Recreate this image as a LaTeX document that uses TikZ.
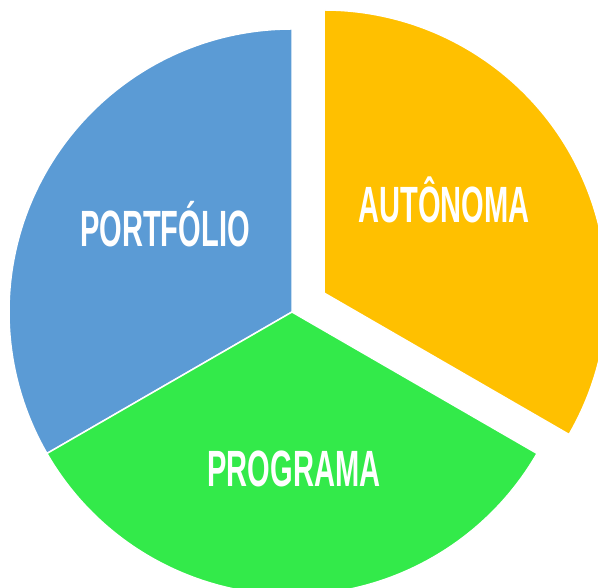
\documentclass[tikz,border=0pt]{standalone}
\usepackage{fontspec}
\newfontfamily\fonterotulo[FakeStretch=0.57]{Liberation Sans}
\usetikzlibrary{positioning}
\definecolor{azul}{HTML}{5B9BD5}
\definecolor{amarelo}{HTML}{FFC000}
\definecolor{verde}{HTML}{33EA4A}

\begin{document}
\begin{tikzpicture}[x=1pt, y=1pt,
    fatia/.style={draw=white, line width=1.5pt, line join=miter},
    rotulo/.style={text=white, anchor=base, font=\fonterotulo\bfseries\fontsize{51}{51}\selectfont}]
    \useasboundingbox (0,0) rectangle (598,588);
    \clip (0,0) rectangle (598,588);

    % Centros
    \coordinate (c) at (292,276);
    \coordinate (ca) at (324,295);

    % Fatias
    \draw[fatia, fill=azul] (c) -- ++(90:283) arc[start angle=90, end angle=210, radius=283] -- cycle;
    \draw[fatia, fill=verde] (c) -- ++(210:283) arc[start angle=210, end angle=330, radius=283] -- cycle;
    \draw[fatia, fill=amarelo] (ca) -- ++(-30:283) arc[start angle=-30, end angle=90, radius=283] -- cycle;

    % Rotulos
    \node[rotulo] (portfolio) at (165,341) {PORTFÓLIO};
    \node[rotulo] (autonoma) at (444,365) {AUTÔNOMA};
    \node[rotulo] (programa) at (294,101) {PROGRAMA};
\end{tikzpicture}
\end{document}
